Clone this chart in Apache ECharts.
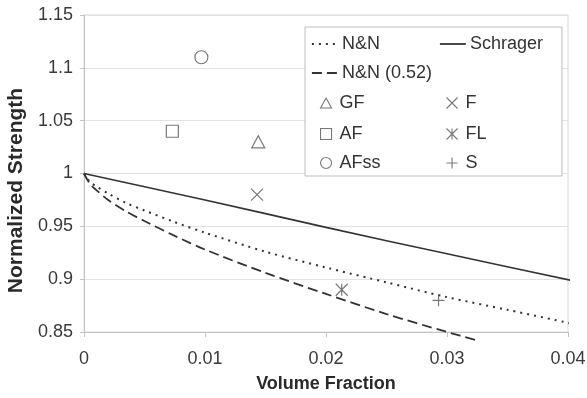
<!DOCTYPE html>
<html>
<head>
<meta charset="utf-8">
<script src="https://cdn.jsdelivr.net/npm/echarts@6/dist/echarts.min.js"></script>
<style>html,body{margin:0;padding:0;background:#fff}#c{width:587px;height:398px}</style>
</head>
<body>
<div id="c"></div>
<script>
// ---- data ----
const xTicks = [0, 0.01, 0.02, 0.03, 0.04];
const yTicks = [0.85, 0.9, 0.95, 1, 1.05, 1.1, 1.15];

const nnX = [0, 0.0005, 0.001, 0.002, 0.0035, 0.005, 0.0075, 0.01, 0.015, 0.02, 0.025, 0.03, 0.035, 0.0403];
const nnY = [1, 0.992, 0.988, 0.981, 0.972, 0.965, 0.954, 0.944, 0.926, 0.911, 0.897, 0.883, 0.871, 0.858];

const nn52X = [0, 0.0005, 0.001, 0.002, 0.0035, 0.005, 0.0075, 0.01, 0.015, 0.02, 0.025, 0.03, 0.0325];
const nn52Y = [1, 0.990, 0.9845, 0.975, 0.964, 0.955, 0.941, 0.928, 0.906, 0.886, 0.867, 0.850, 0.842];

const schX = [0, 0.01, 0.02, 0.03, 0.0406];
const schY = [1, 0.975, 0.949, 0.924, 0.898];

const gfPt = [0.0144, 1.03];
const afPt = [0.0073, 1.04];
const afssPt = [0.0097, 1.11];
const fPt = [0.0143, 0.98];
const flPt = [0.0213, 0.89];
const sPt = [0.0293, 0.88];

// ---- chart ----
const zip = (xs, ys) => xs.map((x, i) => [x, ys[i]]);
const FONT = '"Liberation Sans", Arial, sans-serif';
const lineCol = '#333';
const mkCol = '#555';

const SYM = {
  tri: 'path://M5,0L10,9L0,9Z',
  sq: 'path://M0,0L10,0L10,10L0,10Z',
  circ: 'path://M10,5A5,5,0,1,1,0,5A5,5,0,1,1,10,5Z',
  x: 'path://M0,0L10,10M10,0L0,10',
  star: 'path://M0,0L10,10M10,0L0,10M5,0L5,10',
  plus: 'path://M5,0L5,10M0,5L10,5'
};

function lineSeries(name, data, type, width) {
  return {
    name, type: 'line', data, symbol: 'none', showSymbol: false, smooth: 0.3, clip: false,
    lineStyle: { color: lineCol, width: width, type: type },
    itemStyle: { color: lineCol }, z: 3
  };
}
function markSeries(name, pt, sym, size) {
  return {
    name, type: 'scatter', data: [pt], symbol: sym, symbolSize: size,
    itemStyle: { color: 'rgba(0,0,0,0)', borderColor: mkCol, borderWidth: 1.2 }, z: 4
  };
}

const series = [
  lineSeries('N&N', zip(nnX, nnY), [2, 5], 2),
  lineSeries('N&N (0.52)', zip(nn52X, nn52Y), [10, 5], 1.8),
  lineSeries('Schrager', zip(schX, schY), 'solid', 1.6),
  markSeries('GF', gfPt, SYM.tri, [13, 12]),
  markSeries('AF', afPt, SYM.sq, [12, 12]),
  markSeries('AFss', afssPt, SYM.circ, [13, 13]),
  markSeries('F', fPt, SYM.x, [12, 12]),
  markSeries('FL', flPt, SYM.star, [12, 12]),
  markSeries('S', sPt, SYM.plus, [12, 12])
];

function leg(name, left, centerY, isLine) {
  return {
    data: [name], left: left, top: centerY - 10, padding: 0, selectedMode: false,
    itemWidth: isLine ? 26 : 11, itemHeight: isLine ? 14 : 11,
    itemStyle: isLine ? { color: 'rgba(0,0,0,0)', borderWidth: 0, opacity: 0 } : { borderWidth: 1.1 },
    lineStyle: { width: isLine ? 1.8 : 0 },
    textStyle: { fontFamily: FONT, fontSize: 18, color: '#333', lineHeight: 20,
                 padding: isLine ? [0, 0, 0, -1] : [0, 0, 0, 3] }
  };
}

const legends = [
  leg('N&N', 311, 44, true),
  leg('N&N (0.52)', 311, 73, true),
  leg('GF', 320, 103, false),
  leg('AF', 320, 134, false),
  leg('AFss', 320, 163, false),
  leg('Schrager', 439, 44, true),
  leg('F', 446, 103, false),
  leg('FL', 446, 134, false),
  leg('S', 446, 163, false)
];

const chart = echarts.init(document.getElementById('c'), null, { renderer: 'canvas' });
chart.setOption({
  animation: false,
  backgroundColor: '#fff',
  textStyle: { fontFamily: FONT },
  grid: { left: 84, right: 19, top: 15, bottom: 66, show: true, borderColor: '#d8d8d8', borderWidth: 1,
          containLabel: false, outerBoundsMode: 'none' },
  graphic: [{
    type: 'rect', z: 3, shape: { x: 305, y: 27, width: 257, height: 149 },
    style: { fill: '#fff', stroke: '#bdbdbd', lineWidth: 1 }
  }],
  legend: legends,
  xAxis: {
    type: 'value', min: xTicks[0], max: xTicks[xTicks.length - 1], interval: 0.01,
    name: 'Volume Fraction', nameLocation: 'middle', nameGap: 43,
    nameTextStyle: { fontFamily: FONT, fontSize: 18, fontWeight: 'bold', color: '#2a2a2a' },
    axisLine: { lineStyle: { color: '#c4c4c4' } },
    axisTick: { show: true, length: 5, lineStyle: { color: '#c4c4c4' } },
    axisLabel: { fontFamily: FONT, fontSize: 18, color: '#3a3a3a', margin: 18 },
    splitLine: { show: false }
  },
  yAxis: {
    type: 'value', min: yTicks[0], max: yTicks[yTicks.length - 1], interval: 0.05,
    name: 'Normalized Strength', nameLocation: 'middle', nameGap: 55,
    nameTextStyle: { fontFamily: FONT, fontSize: 21, fontWeight: 'bold', color: '#2a2a2a', padding: [0, 34, 0, 0] },
    axisLine: { show: true, lineStyle: { color: '#c4c4c4' } },
    axisTick: { show: true, length: 4, lineStyle: { color: '#c4c4c4' } },
    axisLabel: { fontFamily: FONT, fontSize: 18, color: '#3a3a3a', margin: 11 },
    splitLine: { show: true, lineStyle: { color: '#e2e2e2' } }
  },
  series: series
});
</script>
</body>
</html>
